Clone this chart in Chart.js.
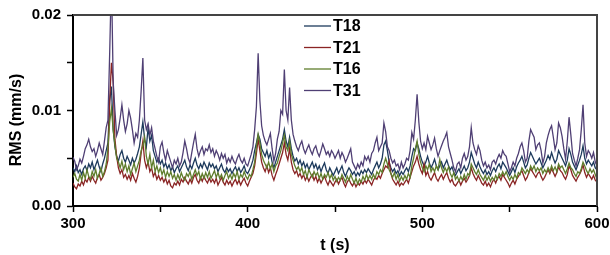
<!DOCTYPE html>
<html>
<head>
<meta charset="utf-8">
<script src="https://cdn.jsdelivr.net/npm/chart.js@4/dist/chart.umd.min.js"></script>
<style>
  html, body { margin: 0; padding: 0; background: #fff; }
  #wrap { width: 610px; height: 255px; }
</style>
</head>
<body>
<div id="wrap"><canvas id="c" width="610" height="255"></canvas></div>
<script>
const seriesNames = ["T18", "T21", "T16", "T31"];
const times = [
300,301,302,303,304,305,306,307,308,309,310,311,312,313,314,315,316,317,318,319,
320,321,322,323,324,325,326,327,328,329,330,331,332,333,334,335,336,337,338,339,
340,341,342,343,344,345,346,347,348,349,350,351,352,353,354,355,356,357,358,359,
360,361,362,363,364,365,366,367,368,369,370,371,372,373,374,375,376,377,378,379,
380,381,382,383,384,385,386,387,388,389,390,391,392,393,394,395,396,397,398,399,
400,401,402,403,404,405,406,407,408,409,410,411,412,413,414,415,416,417,418,419,
420,421,422,423,424,425,426,427,428,429,430,431,432,433,434,435,436,437,438,439,
440,441,442,443,444,445,446,447,448,449,450,451,452,453,454,455,456,457,458,459,
460,461,462,463,464,465,466,467,468,469,470,471,472,473,474,475,476,477,478,479,
480,481,482,483,484,485,486,487,488,489,490,491,492,493,494,495,496,497,498,499,
500,501,502,503,504,505,506,507,508,509,510,511,512,513,514,515,516,517,518,519,
520,521,522,523,524,525,526,527,528,529,530,531,532,533,534,535,536,537,538,539,
540,541,542,543,544,545,546,547,548,549,550,551,552,553,554,555,556,557,558,559,
560,561,562,563,564,565,566,567,568,569,570,571,572,573,574,575,576,577,578,579,
580,581,582,583,584,585,586,587,588,589,590,591,592,593,594,595,596,597,598,599,
600];

const T18 = [
0.0040,0.0036,0.0042,0.0035,0.0038,0.0033,0.0039,0.0042,0.0037,0.0044,
0.0040,0.0046,0.0038,0.0043,0.0048,0.0041,0.0036,0.0044,0.0050,0.0058,
0.0066,0.0110,0.0125,0.0080,0.0062,0.0052,0.0047,0.0054,0.0058,0.0050,
0.0046,0.0052,0.0048,0.0043,0.0050,0.0045,0.0049,0.0055,0.0062,0.0075,
0.0088,0.0070,0.0062,0.0082,0.0068,0.0074,0.0058,0.0052,0.0046,0.0050,
0.0044,0.0048,0.0041,0.0045,0.0039,0.0043,0.0037,0.0041,0.0035,0.0039,
0.0042,0.0036,0.0040,0.0044,0.0048,0.0041,0.0037,0.0043,0.0039,0.0045,
0.0050,0.0043,0.0039,0.0044,0.0040,0.0046,0.0042,0.0038,0.0045,0.0041,
0.0044,0.0039,0.0042,0.0036,0.0040,0.0044,0.0038,0.0035,0.0040,0.0036,
0.0039,0.0034,0.0038,0.0041,0.0036,0.0040,0.0035,0.0038,0.0042,0.0036,
0.0034,0.0038,0.0042,0.0048,0.0058,0.0066,0.0075,0.0070,0.0060,0.0056,
0.0052,0.0058,0.0050,0.0055,0.0046,0.0040,0.0046,0.0052,0.0058,0.0064,
0.0070,0.0080,0.0068,0.0062,0.0072,0.0060,0.0052,0.0047,0.0050,0.0044,
0.0048,0.0042,0.0046,0.0040,0.0044,0.0038,0.0042,0.0046,0.0040,0.0044,
0.0038,0.0042,0.0036,0.0041,0.0045,0.0038,0.0034,0.0040,0.0036,0.0032,
0.0036,0.0040,0.0034,0.0038,0.0042,0.0035,0.0031,0.0036,0.0040,0.0037,
0.0033,0.0036,0.0031,0.0035,0.0032,0.0037,0.0034,0.0038,0.0035,0.0039,
0.0036,0.0033,0.0038,0.0042,0.0046,0.0040,0.0044,0.0050,0.0064,0.0068,
0.0058,0.0046,0.0040,0.0036,0.0039,0.0034,0.0037,0.0032,0.0036,0.0033,
0.0037,0.0040,0.0036,0.0042,0.0052,0.0060,0.0058,0.0066,0.0060,0.0052,
0.0046,0.0042,0.0046,0.0052,0.0045,0.0040,0.0044,0.0049,0.0042,0.0038,
0.0042,0.0046,0.0040,0.0044,0.0048,0.0042,0.0038,0.0041,0.0035,0.0032,
0.0036,0.0039,0.0034,0.0038,0.0042,0.0037,0.0040,0.0046,0.0056,0.0050,
0.0044,0.0040,0.0046,0.0041,0.0037,0.0034,0.0038,0.0033,0.0036,0.0032,
0.0037,0.0040,0.0036,0.0041,0.0044,0.0039,0.0046,0.0043,0.0040,0.0036,
0.0032,0.0036,0.0040,0.0035,0.0041,0.0045,0.0048,0.0052,0.0046,0.0040,
0.0043,0.0050,0.0056,0.0052,0.0048,0.0044,0.0047,0.0050,0.0045,0.0040,
0.0044,0.0048,0.0053,0.0049,0.0056,0.0050,0.0045,0.0049,0.0058,0.0054,
0.0050,0.0046,0.0042,0.0048,0.0060,0.0054,0.0046,0.0042,0.0038,0.0043,
0.0048,0.0054,0.0063,0.0050,0.0044,0.0048,0.0045,0.0042,0.0046,0.0040,
0.0038];

const T21 = [
0.0024,0.0020,0.0018,0.0023,0.0021,0.0026,0.0022,0.0028,0.0025,0.0030,
0.0026,0.0031,0.0027,0.0024,0.0030,0.0033,0.0027,0.0030,0.0034,0.0040,
0.0048,0.0110,0.0150,0.0130,0.0070,0.0052,0.0040,0.0034,0.0038,0.0030,
0.0033,0.0028,0.0032,0.0027,0.0034,0.0029,0.0025,0.0031,0.0040,0.0055,
0.0068,0.0048,0.0040,0.0046,0.0036,0.0040,0.0031,0.0035,0.0028,0.0032,
0.0027,0.0030,0.0025,0.0029,0.0023,0.0027,0.0021,0.0019,0.0024,0.0022,
0.0026,0.0022,0.0028,0.0025,0.0030,0.0026,0.0023,0.0028,0.0024,0.0030,
0.0033,0.0027,0.0024,0.0030,0.0026,0.0031,0.0027,0.0024,0.0029,0.0025,
0.0028,0.0024,0.0029,0.0022,0.0026,0.0030,0.0025,0.0022,0.0027,0.0023,
0.0026,0.0021,0.0025,0.0028,0.0023,0.0027,0.0022,0.0026,0.0029,0.0024,
0.0021,0.0026,0.0030,0.0034,0.0042,0.0055,0.0070,0.0058,0.0046,0.0040,
0.0036,0.0042,0.0035,0.0040,0.0032,0.0027,0.0033,0.0038,0.0044,0.0050,
0.0056,0.0066,0.0054,0.0048,0.0060,0.0046,0.0038,0.0034,0.0037,0.0031,
0.0034,0.0029,0.0033,0.0027,0.0031,0.0026,0.0030,0.0033,0.0027,0.0031,
0.0025,0.0029,0.0024,0.0028,0.0031,0.0026,0.0022,0.0027,0.0024,0.0021,
0.0025,0.0028,0.0023,0.0027,0.0030,0.0024,0.0020,0.0025,0.0028,0.0024,
0.0021,0.0025,0.0020,0.0024,0.0022,0.0026,0.0023,0.0027,0.0024,0.0028,
0.0025,0.0022,0.0027,0.0030,0.0028,0.0032,0.0029,0.0034,0.0038,0.0042,
0.0040,0.0047,0.0034,0.0028,0.0025,0.0022,0.0026,0.0021,0.0024,0.0022,
0.0025,0.0028,0.0024,0.0030,0.0036,0.0042,0.0046,0.0052,0.0044,0.0038,
0.0034,0.0044,0.0032,0.0036,0.0030,0.0027,0.0031,0.0035,0.0029,0.0026,
0.0030,0.0033,0.0028,0.0032,0.0035,0.0029,0.0025,0.0028,0.0023,0.0021,
0.0024,0.0027,0.0022,0.0026,0.0029,0.0025,0.0028,0.0032,0.0040,0.0034,
0.0030,0.0027,0.0032,0.0028,0.0024,0.0022,0.0026,0.0021,0.0024,0.0020,
0.0025,0.0028,0.0024,0.0029,0.0031,0.0027,0.0033,0.0030,0.0027,0.0024,
0.0020,0.0024,0.0027,0.0023,0.0028,0.0031,0.0034,0.0037,0.0032,0.0027,
0.0030,0.0035,0.0039,0.0036,0.0033,0.0030,0.0034,0.0036,0.0031,0.0027,
0.0030,0.0034,0.0038,0.0034,0.0039,0.0035,0.0031,0.0035,0.0041,0.0037,
0.0035,0.0031,0.0028,0.0033,0.0042,0.0038,0.0032,0.0029,0.0026,0.0030,
0.0033,0.0037,0.0043,0.0035,0.0030,0.0034,0.0031,0.0028,0.0032,0.0027,
0.0025];

const T16 = [
0.0030,0.0034,0.0028,0.0026,0.0033,0.0027,0.0035,0.0029,0.0038,0.0031,
0.0028,0.0036,0.0031,0.0038,0.0029,0.0034,0.0040,0.0031,0.0036,0.0044,
0.0060,0.0088,0.0102,0.0080,0.0064,0.0050,0.0046,0.0040,0.0047,0.0038,
0.0044,0.0036,0.0042,0.0033,0.0039,0.0045,0.0036,0.0042,0.0048,0.0058,
0.0063,0.0072,0.0052,0.0044,0.0054,0.0040,0.0048,0.0036,0.0042,0.0035,
0.0040,0.0033,0.0038,0.0030,0.0036,0.0031,0.0036,0.0029,0.0033,0.0027,
0.0033,0.0028,0.0035,0.0030,0.0027,0.0034,0.0031,0.0036,0.0028,0.0033,
0.0038,0.0032,0.0036,0.0028,0.0034,0.0029,0.0035,0.0030,0.0036,0.0029,
0.0033,0.0037,0.0030,0.0035,0.0029,0.0033,0.0027,0.0032,0.0036,0.0029,
0.0033,0.0028,0.0034,0.0030,0.0036,0.0028,0.0033,0.0030,0.0036,0.0031,
0.0028,0.0033,0.0031,0.0038,0.0046,0.0062,0.0075,0.0066,0.0054,0.0048,
0.0044,0.0040,0.0046,0.0039,0.0044,0.0036,0.0042,0.0045,0.0052,0.0058,
0.0066,0.0074,0.0062,0.0058,0.0068,0.0054,0.0048,0.0042,0.0038,0.0041,
0.0036,0.0040,0.0033,0.0037,0.0030,0.0038,0.0034,0.0030,0.0036,0.0032,
0.0035,0.0029,0.0034,0.0028,0.0033,0.0030,0.0035,0.0029,0.0033,0.0027,
0.0031,0.0026,0.0030,0.0027,0.0033,0.0029,0.0025,0.0031,0.0027,0.0033,
0.0028,0.0024,0.0029,0.0023,0.0028,0.0025,0.0031,0.0027,0.0033,0.0028,
0.0032,0.0028,0.0033,0.0029,0.0036,0.0033,0.0038,0.0035,0.0044,0.0050,
0.0044,0.0038,0.0034,0.0030,0.0035,0.0028,0.0033,0.0026,0.0031,0.0027,
0.0032,0.0028,0.0034,0.0030,0.0042,0.0050,0.0060,0.0068,0.0054,0.0046,
0.0040,0.0036,0.0042,0.0038,0.0044,0.0036,0.0040,0.0036,0.0042,0.0038,
0.0049,0.0040,0.0035,0.0040,0.0036,0.0041,0.0034,0.0030,0.0035,0.0028,
0.0031,0.0026,0.0031,0.0027,0.0033,0.0028,0.0034,0.0032,0.0044,0.0040,
0.0036,0.0033,0.0038,0.0033,0.0030,0.0027,0.0032,0.0027,0.0031,0.0026,
0.0030,0.0027,0.0032,0.0028,0.0034,0.0031,0.0036,0.0032,0.0036,0.0031,
0.0027,0.0031,0.0028,0.0033,0.0029,0.0035,0.0033,0.0040,0.0037,0.0034,
0.0038,0.0035,0.0042,0.0038,0.0042,0.0036,0.0040,0.0037,0.0040,0.0034,
0.0038,0.0035,0.0040,0.0036,0.0042,0.0037,0.0041,0.0036,0.0044,0.0040,
0.0042,0.0038,0.0034,0.0039,0.0045,0.0040,0.0038,0.0034,0.0031,0.0036,
0.0034,0.0039,0.0046,0.0042,0.0037,0.0034,0.0039,0.0035,0.0038,0.0033,
0.0028];

const T31 = [
0.0051,0.0047,0.0038,0.0042,0.0049,0.0045,0.0052,0.0060,0.0064,0.0070,
0.0062,0.0057,0.0060,0.0052,0.0058,0.0066,0.0060,0.0054,0.0068,0.0082,
0.0090,0.0160,0.0240,0.0130,0.0100,0.0074,0.0080,0.0092,0.0106,0.0090,
0.0078,0.0086,0.0100,0.0092,0.0080,0.0066,0.0076,0.0072,0.0090,0.0120,
0.0155,0.0090,0.0080,0.0086,0.0074,0.0082,0.0068,0.0060,0.0052,0.0046,
0.0062,0.0067,0.0056,0.0048,0.0058,0.0052,0.0046,0.0040,0.0048,0.0044,
0.0050,0.0042,0.0046,0.0056,0.0068,0.0060,0.0050,0.0045,0.0056,0.0066,
0.0075,0.0060,0.0052,0.0058,0.0062,0.0054,0.0060,0.0058,0.0064,0.0056,
0.0060,0.0052,0.0058,0.0054,0.0048,0.0055,0.0050,0.0054,0.0045,0.0050,
0.0046,0.0052,0.0047,0.0044,0.0050,0.0054,0.0048,0.0045,0.0050,0.0044,
0.0042,0.0048,0.0054,0.0062,0.0080,0.0104,0.0160,0.0110,0.0084,0.0074,
0.0068,0.0064,0.0070,0.0076,0.0060,0.0047,0.0055,0.0070,0.0078,0.0100,
0.0096,0.0143,0.0100,0.0090,0.0124,0.0090,0.0075,0.0068,0.0062,0.0058,
0.0064,0.0068,0.0060,0.0055,0.0060,0.0064,0.0058,0.0054,0.0060,0.0063,
0.0056,0.0052,0.0058,0.0065,0.0060,0.0054,0.0057,0.0052,0.0058,0.0055,
0.0050,0.0054,0.0058,0.0050,0.0056,0.0052,0.0046,0.0050,0.0055,0.0060,
0.0046,0.0042,0.0038,0.0044,0.0040,0.0046,0.0042,0.0052,0.0048,0.0052,
0.0046,0.0055,0.0058,0.0066,0.0072,0.0058,0.0062,0.0066,0.0087,0.0078,
0.0062,0.0058,0.0050,0.0045,0.0048,0.0042,0.0044,0.0038,0.0046,0.0040,
0.0044,0.0050,0.0048,0.0058,0.0077,0.0070,0.0090,0.0117,0.0088,0.0068,
0.0060,0.0066,0.0059,0.0073,0.0066,0.0059,0.0064,0.0071,0.0060,0.0052,
0.0058,0.0063,0.0068,0.0072,0.0077,0.0062,0.0055,0.0048,0.0040,0.0036,
0.0044,0.0046,0.0040,0.0050,0.0055,0.0048,0.0052,0.0062,0.0082,0.0066,
0.0059,0.0054,0.0063,0.0058,0.0048,0.0042,0.0046,0.0040,0.0043,0.0038,
0.0046,0.0048,0.0044,0.0050,0.0054,0.0050,0.0058,0.0054,0.0052,0.0044,
0.0036,0.0040,0.0046,0.0042,0.0050,0.0055,0.0062,0.0066,0.0058,0.0046,
0.0050,0.0068,0.0080,0.0076,0.0072,0.0059,0.0064,0.0066,0.0058,0.0045,
0.0052,0.0066,0.0074,0.0080,0.0084,0.0072,0.0059,0.0066,0.0087,0.0082,
0.0073,0.0060,0.0049,0.0068,0.0093,0.0075,0.0055,0.0048,0.0042,0.0050,
0.0059,0.0080,0.0106,0.0066,0.0052,0.0058,0.0055,0.0050,0.0056,0.0046,
0.0042];

const xTickLabels = ["300", "400", "500", "600"];
const yTickLabels = ["0.00", "0.01", "0.02"];
const xTitle = "t (s)";
const yTitle = "RMS (mm/s)";

const seriesValues = [T18, T21, T16, T31];
const colors = ["#1d3a5c", "#8a2424", "#5f7d2c", "#4f3f74"];

const datasets = seriesNames.map((name, i) => ({
  label: name,
  data: times.map((t, k) => ({ x: t, y: seriesValues[i][k] })),
  borderColor: colors[i],
  borderWidth: 1.3,
  pointRadius: 0,
  tension: 0,
  fill: false,
  order: [3, 2, 1, 0][i]
}));

const FONT = "'Liberation Sans', Arial, sans-serif";

const framePlugin = {
  id: 'frame',
  afterDatasetsDraw(chart) {
    const { ctx, chartArea: a } = chart;
    ctx.save();
    ctx.strokeStyle = '#444';
    ctx.lineWidth = 2;
    ctx.beginPath();
    ctx.moveTo(a.left, a.top);
    ctx.lineTo(a.right, a.top);
    ctx.lineTo(a.right, a.bottom);
    ctx.stroke();
    ctx.restore();
  }
};

const textPlugin = {
  id: 'texts',
  afterDraw(chart) {
    const { ctx } = chart;
    ctx.save();
    ctx.font = "bold 16px " + FONT;
    ctx.fillStyle = '#000';
    ctx.textAlign = 'center';
    ctx.textBaseline = 'middle';
    ctx.translate(17, 120);
    ctx.rotate(-Math.PI / 2);
    ctx.fillText(yTitle, 0, 0);
    ctx.restore();

    ctx.save();
    ctx.font = "bold 16px " + FONT;
    ctx.textBaseline = 'middle';
    const x0 = 304, x1 = 331, tx = 333;
    const ys = [26, 47.5, 69, 90.5];
    chart.data.datasets.forEach((ds, i) => {
      ctx.strokeStyle = ds.borderColor;
      ctx.lineWidth = 1.3;
      ctx.beginPath();
      ctx.moveTo(x0, ys[i]);
      ctx.lineTo(x1, ys[i]);
      ctx.stroke();
      ctx.fillStyle = '#000';
      ctx.fillText(ds.label, tx, ys[i] + 1);
    });
    ctx.restore();
  }
};

new Chart(document.getElementById('c'), {
  type: 'line',
  data: { datasets },
  options: {
    responsive: false,
    animation: false,
    devicePixelRatio: 1,
    layout: { padding: { left: 0, right: 13, top: 15, bottom: 0 } },
    plugins: { legend: { display: false }, tooltip: { enabled: false } },
    scales: {
      x: {
        type: 'linear',
        min: 300, max: 600,
        afterFit(s) { s.height = 49; s.paddingRight = 0; s.paddingLeft = 0; },
        border: { display: true, color: '#000', width: 2 },
        grid: { drawOnChartArea: false, drawTicks: true, tickLength: 6, tickColor: '#000', tickWidth: 1.5 },
        ticks: {
          stepSize: 50,
          autoSkip: false,
          maxRotation: 0,
          padding: 3,
          color: '#000',
          font: { family: FONT, size: 15, weight: 'bold' },
          callback(v) {
            const idx = [300, 400, 500, 600].indexOf(v);
            return idx >= 0 ? xTickLabels[idx] : '';
          }
        },
        title: {
          display: true, text: xTitle, color: '#000',
          font: { family: FONT, size: 16, weight: 'bold' },
          padding: { top: 1, bottom: 0 }
        }
      },
      y: {
        min: 0, max: 0.02,
        afterFit(s) { s.width = 73; s.paddingTop = 0; s.paddingBottom = 0; },
        border: { display: true, color: '#000', width: 2 },
        grid: { drawOnChartArea: false, drawTicks: true, tickLength: 6, tickColor: '#000', tickWidth: 1.5 },
        ticks: {
          stepSize: 0.005,
          autoSkip: false,
          padding: 6,
          color: '#000',
          font: { family: FONT, size: 15, weight: 'bold' },
          callback(v) {
            const k = Math.round(v * 1000);
            const idx = [0, 10, 20].indexOf(k);
            return idx >= 0 ? yTickLabels[idx] : '';
          }
        },
        title: { display: false }
      }
    }
  },
  plugins: [framePlugin, textPlugin]
});
</script>
</body>
</html>
